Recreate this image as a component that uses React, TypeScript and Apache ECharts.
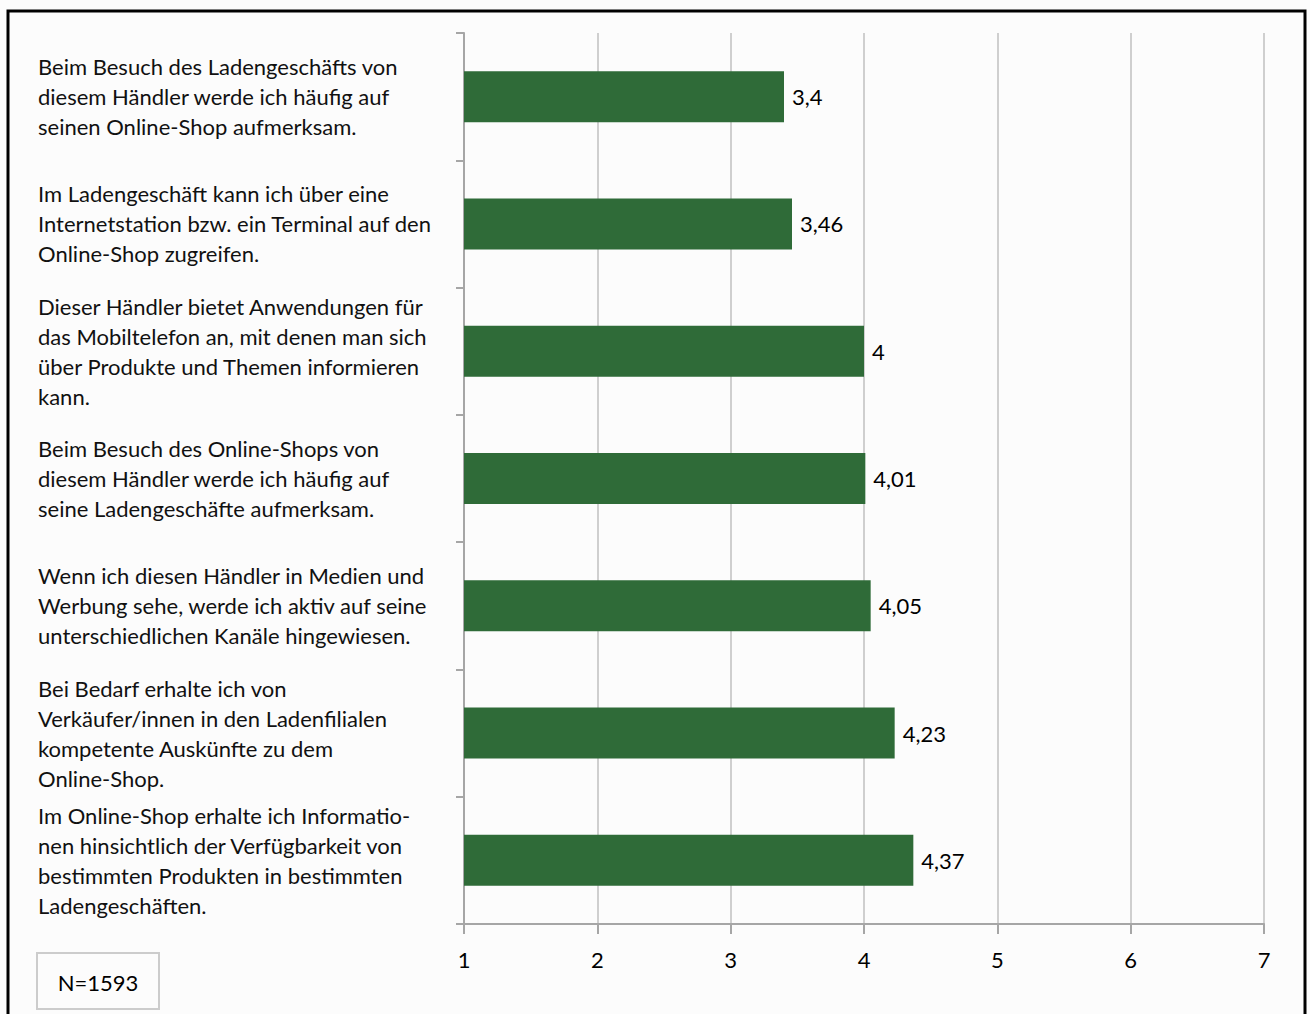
import React, { useEffect, useRef } from "react";
import * as echarts from "echarts";

const categories = [
  "Beim Besuch des Ladengeschäfts von\ndiesem Händler werde ich häufig auf\nseinen Online-Shop aufmerksam.",
  "Im Ladengeschäft kann ich über eine\nInternetstation bzw. ein Terminal auf den\nOnline-Shop zugreifen.",
  "Dieser Händler bietet Anwendungen für\ndas Mobiltelefon an, mit denen man sich\nüber Produkte und Themen informieren\nkann.",
  "Beim Besuch des Online-Shops von\ndiesem Händler werde ich häufig auf\nseine Ladengeschäfte aufmerksam.",
  "Wenn ich diesen Händler in Medien und\nWerbung sehe, werde ich aktiv auf seine\nunterschiedlichen Kanäle hingewiesen.",
  "Bei Bedarf erhalte ich von\nVerkäufer/innen in den Ladenfilialen\nkompetente Auskünfte zu dem\nOnline-Shop.",
  "Im Online-Shop erhalte ich Informatio-\nnen hinsichtlich der Verfügbarkeit von\nbestimmten Produkten in bestimmten\nLadengeschäften.",
];
const values = [3.4, 3.46, 4, 4.01, 4.05, 4.23, 4.37];
const xMin = 1;
const xMax = 7;
const sampleNote = "N=1593";

const FONT = "Lato, 'Open Sans', sans-serif";

export default function App() {
  const ref = useRef<HTMLDivElement>(null);
  useEffect(() => {
    if (!ref.current) return;
    const chart = echarts.init(ref.current, null, { renderer: "svg" });
    chart.setOption({
      animation: false,
      backgroundColor: "#fcfcfc",
      textStyle: { fontFamily: FONT },
      grid: { left: 464, right: 46, top: 33, bottom: 90 },
      xAxis: {
        type: "value",
        min: xMin,
        max: xMax,
        interval: 1,
        axisLine: { show: true, lineStyle: { color: "#a6a6a6", width: 2 } },
        axisTick: { show: true, length: 10, lineStyle: { color: "#a6a6a6", width: 2 } },
        axisLabel: { color: "#000", fontSize: 22, margin: 24, fontFamily: FONT },
        splitLine: { show: true, lineStyle: { color: "#cfcfcf", width: 2 } },
      },
      yAxis: {
        type: "category",
        data: categories,
        inverse: true,
        axisLine: { show: true, lineStyle: { color: "#a6a6a6", width: 2 } },
        axisTick: { show: true, length: 8, lineStyle: { color: "#a6a6a6", width: 2 } },
        axisLabel: {
          color: "#111",
          fontSize: 22,
          lineHeight: 30,
          align: "left",
          margin: 426,
          fontFamily: FONT,
        },
        splitLine: { show: false },
      },
      series: [
        {
          type: "bar",
          data: values,
          barWidth: 51,
          itemStyle: { color: "#2f6b38" },
          label: {
            show: true,
            position: "right",
            distance: 8,
            color: "#000",
            fontSize: 22,
            fontFamily: FONT,
            formatter: (p: any) => String(p.value).replace(".", ","),
          },
        },
      ],
      graphic: [
        {
          type: "rect",
          shape: { x: 8, y: 11, width: 1297, height: 1020 },
          style: { fill: "none", stroke: "#000", lineWidth: 3 },
          silent: true,
        },
        {
          type: "rect",
          shape: { x: 37, y: 953, width: 122, height: 56 },
          style: { fill: "#fcfcfc", stroke: "#cccccc", lineWidth: 2 },
        },
        {
          type: "text",
          x: 98,
          y: 982,
          style: {
            text: sampleNote,
            fontSize: 22,
            fontFamily: FONT,
            fill: "#000",
            align: "center",
            verticalAlign: "middle",
          },
        },
      ],
    });
    return () => chart.dispose();
  }, []);
  return (
    <div
      ref={ref}
      style={{ position: "fixed", left: 0, top: 0, width: 1310, height: 1014 }}
    />
  );
}
